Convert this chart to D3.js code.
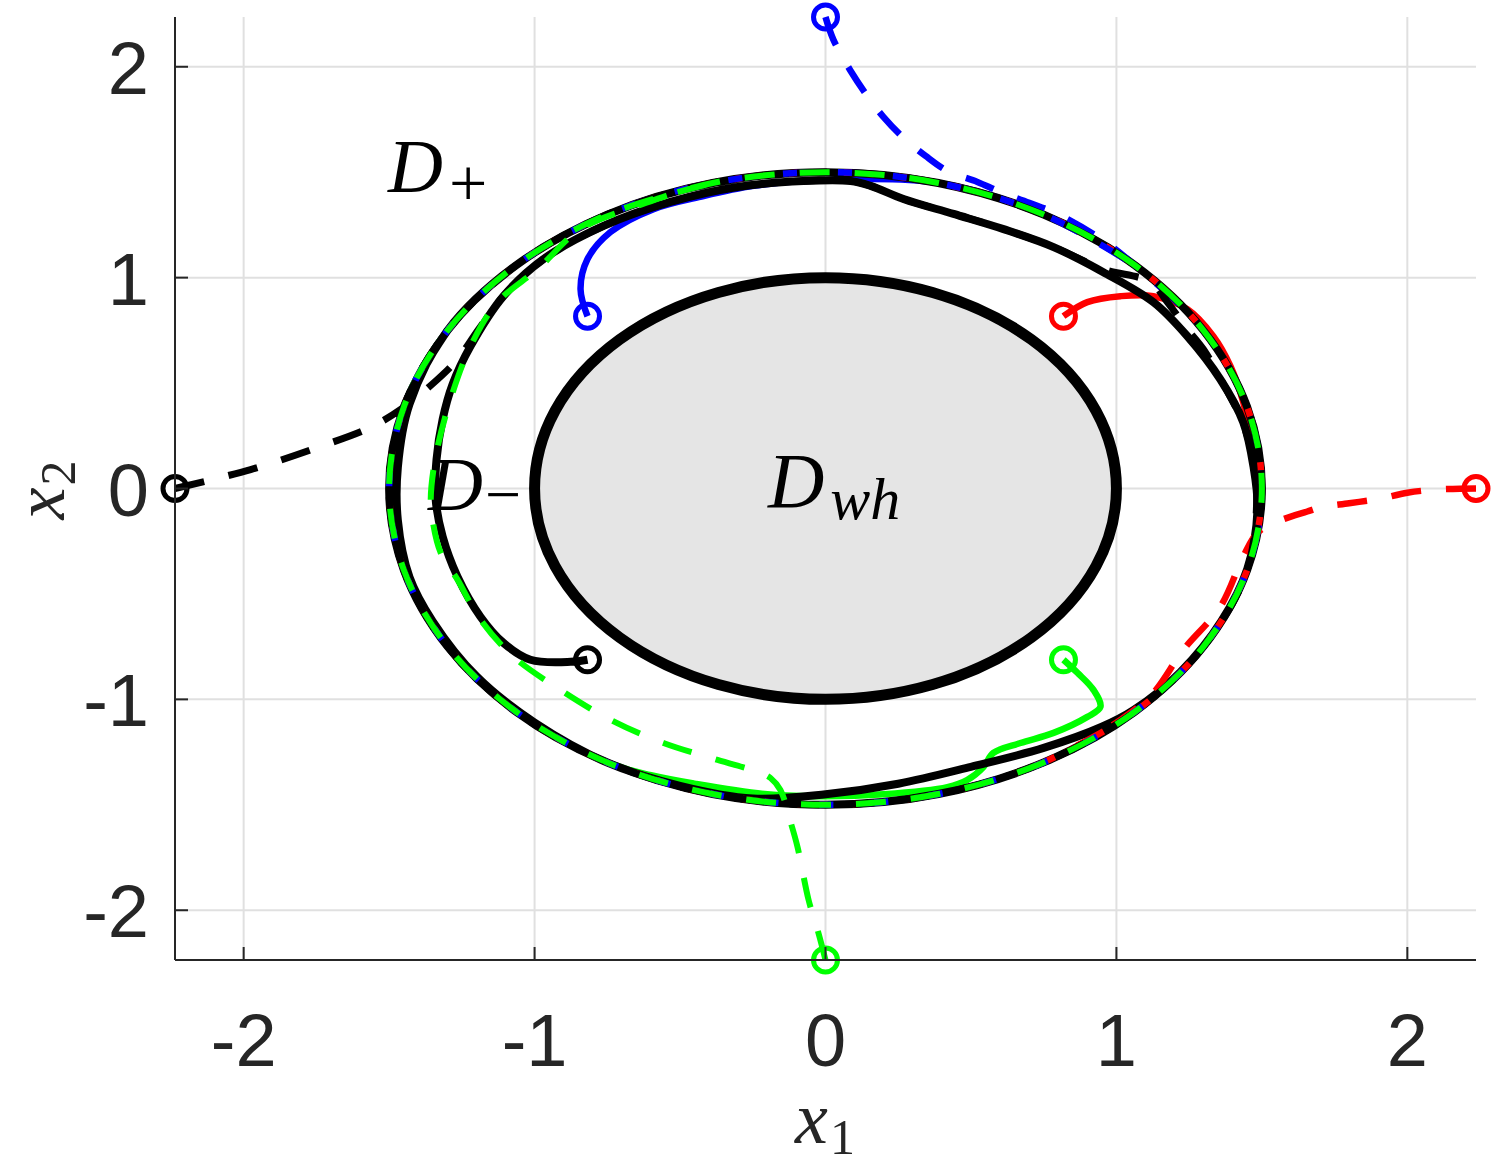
<!DOCTYPE html>
<html><head><meta charset="utf-8">
<script src="https://cdn.jsdelivr.net/npm/d3@7"></script>
<style>body{margin:0;background:#fff}</style></head>
<body><svg id="c" width="1495" height="1167"></svg>
<script>
// ---------- data ----------
const xDomain = [-2.236, 2.236];
const yDomain = [-2.236, 2.236];
const xTicks = [-2, -1, 0, 1, 2];
const yTicks = [-2, -1, 0, 1, 2];
const xTickLabels = ["-2", "-1", "0", "1", "2"];
const yTickLabels = ["-2", "-1", "0", "1", "2"];

const innerRadius = 1.0;   // D_wh boundary

// limit cycle, clockwise from the top
const ring = [
  [0, 1.5], [0.388, 1.449], [0.75, 1.299], [1.061, 1.061], [1.299, 0.75], [1.449, 0.388],
  [1.5, 0], [1.449, -0.388], [1.299, -0.75], [1.061, -1.061], [0.75, -1.299], [0.388, -1.449],
  [0, -1.5], [-0.388, -1.449], [-0.75, -1.299], [-1.061, -1.061], [-1.299, -0.75], [-1.449, -0.388],
  [-1.5, 0], [-1.449, 0.388], [-1.299, 0.75], [-1.061, 1.061], [-0.75, 1.299], [-0.388, 1.449]
];

// solid trajectories (start inside)
const blackSolid = [
  [-0.818, -0.812], [-0.876, -0.822], [-1.014, -0.812], [-1.107, -0.732], [-1.186, -0.608],
  [-1.265, -0.418], [-1.316, -0.228], [-1.340, -0.052], [-1.337, 0.138], [-1.316, 0.328],
  [-1.282, 0.494], [-1.220, 0.675], [-1.107, 0.912], [-0.969, 1.088], [-0.763, 1.245],
  [-0.533, 1.359], [-0.302, 1.430], [-0.076, 1.458], [0.086, 1.458], [0.155, 1.435],
  [0.268, 1.373], [0.440, 1.302], [0.612, 1.230], [0.784, 1.145], [0.955, 1.026],
  [1.127, 0.884], [1.244, 0.722], [1.357, 0.518], [1.436, 0.314], [1.471, 0.105],
  [1.485, -0.100], [1.45, -0.38], [1.36, -0.63], [1.22, -0.87], [1.06, -1.05], [0.95, -1.13],
  [0.75, -1.23], [0.5, -1.32], [0.25, -1.40], [0.0, -1.45], [-0.25, -1.47], [-0.5, -1.41],
  [-0.75, -1.30], [-1.0, -1.11], [-1.2, -0.89], [-1.35, -0.63], [-1.43, -0.42],
  [-1.47, -0.15], [-1.47, 0.1], [-1.43, 0.4]
];
const blueSolid = [
  [-0.818, 0.817], [-0.842, 0.945], [-0.818, 1.088], [-0.739, 1.216], [-0.591, 1.325],
  [-0.419, 1.387], [-0.247, 1.435], [-0.076, 1.458]
];
const redSolid = [
  [0.818, 0.817], [0.900, 0.884], [1.014, 0.912], [1.127, 0.912], [1.244, 0.850],
  [1.333, 0.722], [1.392, 0.580], [1.436, 0.409], [1.460, 0.247]
];
const greenSolid = [
  [0.818, -0.812], [0.866, -0.874], [0.921, -0.955], [0.945, -1.036], [0.900, -1.083],
  [0.784, -1.159], [0.670, -1.207], [0.577, -1.254], [0.543, -1.321], [0.488, -1.382],
  [0.419, -1.416], [0.2, -1.45], [0, -1.46], [-0.2, -1.45], [-0.45, -1.40], [-0.6, -1.36]
];

// dashed trajectories (start outside)
const blackDashed = [
  [-2.236, 0], [-1.976, 0.09], [-1.735, 0.2], [-1.564, 0.29], [-1.46, 0.375],
  [-1.333, 0.518], [-1.265, 0.613], [-1.19, 0.76], [-1.107, 0.912], [-0.969, 1.088],
  [-0.763, 1.245], [-0.533, 1.359], [-0.302, 1.430], [-0.076, 1.458], [0.086, 1.458],
  [0.155, 1.435], [0.268, 1.373], [0.440, 1.302], [0.612, 1.230], [0.784, 1.145],
  [0.955, 1.040], [1.117, 0.979], [1.175, 0.884], [1.244, 0.755], [1.299, 0.66],
  [1.37, 0.49], [1.44, 0.29], [1.48, 0.05]
];
const blueDashed = [
  [0, 2.236], [0.027, 2.129], [0.086, 1.981], [0.141, 1.867], [0.199, 1.762],
  [0.265, 1.667], [0.344, 1.577], [0.419, 1.506], [0.522, 1.454], [0.601, 1.406],
  [0.70, 1.355], [0.80, 1.30], [0.95, 1.18]
];
const redDashed = [
  [2.236, 0], [2.10, -0.005], [2.0, -0.02], [1.90, -0.05], [1.80, -0.07], [1.70, -0.09],
  [1.656, -0.109], [1.553, -0.157], [1.485, -0.209], [1.436, -0.323], [1.357, -0.561],
  [1.230, -0.765], [1.127, -0.969], [1.014, -1.097]
];
const greenDashed = [
  [0, -2.236], [-0.024, -2.109], [-0.058, -1.952], [-0.096, -1.701], [-0.120, -1.582],
  [-0.155, -1.430], [-0.189, -1.373], [-0.223, -1.349], [-0.371, -1.287], [-0.557, -1.207],
  [-0.739, -1.097], [-0.911, -0.955], [-1.072, -0.798], [-1.186, -0.622], [-1.265, -0.432],
  [-1.323, -0.304], [-1.351, -0.147], [-1.357, -0.052], [-1.340, 0.152], [-1.289, 0.423],
  [-1.220, 0.675], [-1.127, 0.884], [-0.990, 1.040], [-0.842, 1.230], [-0.646, 1.340]
];

// ring index at which each trajectory joins the limit cycle
const joins = {
  blackSolid: 20, blueSolid: 1, redSolid: 6, greenSolid: 14,
  blackDashed: 7, blueDashed: 3, redDashed: 10, greenDashed: 23
};

// ---------- drawing ----------
const L = 175, R = 1476, T = 17, B = 960;
const x = d3.scaleLinear().domain(xDomain).range([L, R]);
const y = d3.scaleLinear().domain(yDomain).range([B, T]);
const svg = d3.select("#c");
const axisColor = "#262626";
const serif = "'Liberation Serif', 'DejaVu Serif', serif";

function withRing(pts, k) {
  const loop = d3.range(ring.length + 1).map(i => ring[(k + i) % ring.length]);
  return pts.concat(loop);
}
const line = d3.line().x(d => x(d[0])).y(d => y(d[1])).curve(d3.curveCatmullRom.alpha(0.5));

// grid
const grid = svg.append("g");
grid.selectAll(".gx").data(xTicks).join("line")
  .attr("x1", d => x(d)).attr("x2", d => x(d)).attr("y1", T).attr("y2", B)
  .attr("stroke", "#e0e0e0").attr("stroke-width", 2);
grid.selectAll(".gy").data(yTicks).join("line")
  .attr("y1", d => y(d)).attr("y2", d => y(d)).attr("x1", L).attr("x2", R)
  .attr("stroke", "#e0e0e0").attr("stroke-width", 2);

// inner region
svg.append("ellipse")
  .attr("cx", x(0)).attr("cy", y(0))
  .attr("rx", x(innerRadius) - x(0)).attr("ry", y(0) - y(innerRadius))
  .attr("fill", "#e5e5e5").attr("stroke", "#000").attr("stroke-width", 11);

// trajectories
const traj = [
  {name: "redSolid", pts: redSolid, color: "#ff0000", dash: null, w: 6.5},
  {name: "blueSolid", pts: blueSolid, color: "#0000ff", dash: null, w: 6.5},
  {name: "greenSolid", pts: greenSolid, color: "#00ff00", dash: null, w: 6.5},
  {name: "blackSolid", pts: blackSolid, color: "#000000", dash: null, w: 8},
  {name: "redDashed", pts: redDashed, color: "#ff0000", dash: "30,25", w: 6.5},
  {name: "blueDashed", pts: blueDashed, color: "#0000ff", dash: "30,25", w: 6.5},
  {name: "blackDashed", pts: blackDashed, color: "#000000", dash: "30,25", w: 7},
  {name: "greenDashed", pts: greenDashed, color: "#00ff00", dash: "30,25", w: 6}
];
const tg = svg.append("g");
traj.forEach(t => {
  tg.append("path")
    .attr("d", line(withRing(t.pts, joins[t.name])))
    .attr("fill", "none").attr("stroke", t.color).attr("stroke-width", t.w)
    .attr("stroke-dasharray", t.dash).attr("stroke-linejoin", "round");
});
traj.forEach(t => {
  tg.append("circle")
    .attr("cx", x(t.pts[0][0])).attr("cy", y(t.pts[0][1])).attr("r", 12)
    .attr("fill", "none").attr("stroke", t.color).attr("stroke-width", 5);
});

// region labels
function mathLabel(px, py, main, sub, subItalic, mainSize, subSize, subDy, subDx) {
  const t = svg.append("text").attr("x", px).attr("y", py)
    .attr("font-family", serif).attr("fill", "#000");
  t.append("tspan").attr("font-style", "italic").attr("font-size", mainSize).text(main);
  t.append("tspan").attr("font-style", subItalic ? "italic" : "normal")
    .attr("font-size", subSize).attr("dy", subDy).attr("dx", subDx).text(sub);
  return t;
}
mathLabel(388, 192, "D", "+", false, 76, 68, 14, 6);
mathLabel(428, 510, "D", "\u2212", false, 76, 64, 6, 2);
mathLabel(768, 507, "D", "wh", true, 78, 60, 12, 6);

// axes
const ax = svg.append("g").attr("stroke", axisColor).attr("stroke-width", 2);
ax.append("line").attr("x1", L).attr("x2", L).attr("y1", T).attr("y2", B);
ax.append("line").attr("x1", L).attr("x2", R).attr("y1", B).attr("y2", B);
ax.selectAll(".tx").data(xTicks).join("line")
  .attr("x1", d => x(d)).attr("x2", d => x(d)).attr("y1", B).attr("y2", B - 13);
ax.selectAll(".ty").data(yTicks).join("line")
  .attr("y1", d => y(d)).attr("y2", d => y(d)).attr("x1", L).attr("x2", L + 13);

const tickFont = "'Liberation Sans', Arial, Helvetica, sans-serif";
svg.selectAll(".xl").data(xTicks).join("text")
  .attr("x", d => x(d)).attr("y", 1066).attr("text-anchor", "middle")
  .attr("font-family", tickFont).attr("font-size", 74).attr("fill", axisColor)
  .text((d, i) => xTickLabels[i]);
svg.selectAll(".yl").data(yTicks).join("text")
  .attr("x", 149).attr("y", d => y(d) + 27).attr("text-anchor", "end")
  .attr("font-family", tickFont).attr("font-size", 74).attr("fill", axisColor)
  .text((d, i) => yTickLabels[i]);

// axis titles
const xt = svg.append("text").attr("x", 825).attr("y", 1143).attr("text-anchor", "middle")
  .attr("font-family", serif).attr("fill", axisColor);
xt.append("tspan").attr("font-style", "italic").attr("font-size", 74).text("x");
xt.append("tspan").attr("font-size", 50).attr("dy", 11).attr("dx", 2).text("1");

const yt = svg.append("text").attr("transform", "translate(64,490) rotate(-90)")
  .attr("text-anchor", "middle")
  .attr("font-family", serif).attr("fill", axisColor);
yt.append("tspan").attr("font-style", "italic").attr("font-size", 72).text("x");
yt.append("tspan").attr("font-size", 50).attr("dy", 11).attr("dx", 2).text("2");
</script>
</body></html>
